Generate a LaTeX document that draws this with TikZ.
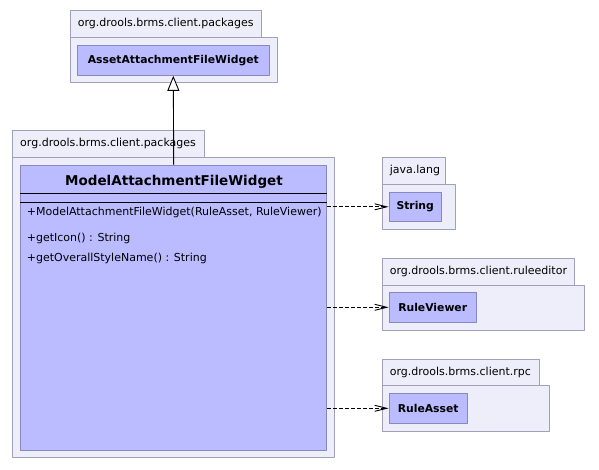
\documentclass[tikz,border=0pt]{standalone}
\usepackage{fontspec}
\setmainfont{DejaVu Sans}
\usetikzlibrary{arrows.meta}
\definecolor{pkgfill}{RGB}{238,238,250}
\definecolor{pkgline}{RGB}{160,160,184}
\definecolor{clsfill}{RGB}{187,187,255}
\definecolor{clsline}{RGB}{136,136,192}
\begin{document}
\begin{tikzpicture}[x=1pt,y=-1pt,line join=round,font=\fontsize{11}{13}\selectfont,
	pkg/.style={draw=pkgline,fill=pkgfill,line width=1pt},
	cls/.style={draw=clsline,fill=clsfill,line width=1pt,inner sep=0pt,font=\fontsize{10.8}{13}\selectfont\bfseries},
	dep/.style={line width=0.9pt,dash pattern=on 4pt off 2pt,-{Straight Barb[length=12pt,width=6pt]}},
	gen/.style={line width=0.9pt,-{Triangle[length=15pt,width=12pt,fill=white]}}]
	\useasboundingbox (0,0) rectangle (599,469);
	% packages: name/left/tab top/tab right/tab bottom/right/bottom/label
	\foreach \n/\l/\t/\tr/\m/\r/\b/\txt in {
		top/70.3/10.3/261.7/37.3/277.3/82.3/org.drools.brms.client.packages,
		mid/12.7/130.3/204.7/157/334.3/457.3/org.drools.brms.client.packages,
		lang/382.3/157.3/445.3/184/455.3/229/java.lang,
		edit/382.3/258.3/574.3/285/584.3/330.3/org.drools.brms.client.ruleeditor,
		rpc/382.3/359.3/539/385/549.3/431/org.drools.brms.client.rpc}
	{
		\draw[pkg] (\l,\t) rectangle (\tr,\m);
		\draw[pkg] (\l,\m) rectangle (\r,\b);
		\node[anchor=west] (tab\n) at (\l+4,{(\t+\m)/2}) {\txt};
	}
	% classes
	\node[cls,minimum width=192pt,minimum height=30pt] (base) at (173.3,60.3) {AssetAttachmentFileWidget};
	\node[cls,minimum width=52.3pt,minimum height=29pt] (str) at (415.2,206.8) {String};
	\node[cls,minimum width=87.3pt,minimum height=30pt] (view) at (432.7,307.3) {RuleViewer};
	\node[cls,minimum width=78.3pt,minimum height=30pt] (asset) at (428.2,408.3) {RuleAsset};
	\node[cls,minimum width=306pt,minimum height=284.7pt] (main) at (173.7,307.65) {};
	\node[font=\fontsize{13.5}{16}\selectfont\bfseries] (title) at (174,181.7) {ModelAttachmentFileWidget};
	\draw[line width=0.9pt] (main.west |- 0,193) -- (main.east |- 0,193);
	\draw[line width=0.9pt] (main.west |- 0,202) -- (main.east |- 0,202);
	\node[anchor=west] (op1) at (23.3,212.3) {+ModelAttachmentFileWidget(RuleAsset, RuleViewer)};
	\node[anchor=west] (op2) at (23.3,238.7) {+getIcon() : String};
	\node[anchor=west] (op3) at (23.3,258.7) {+getOverallStyleName() : String};
	% relations
	\draw[gen] (main.north) -- (base.south);
	\foreach \c in {str,view,asset}
	\draw[dep] (main.east |- \c.west) -- (\c.west);
\end{tikzpicture}
\end{document}
